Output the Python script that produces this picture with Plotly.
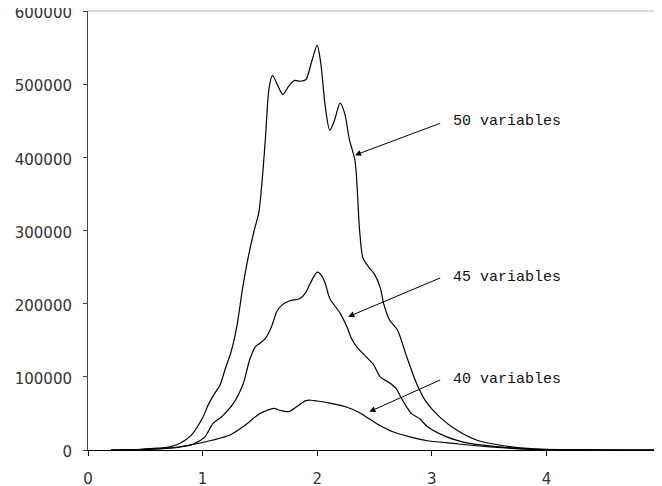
import plotly.graph_objects as go

# ---- data ----
x50 = [0.2, 0.4, 0.5, 0.6, 0.7, 0.8, 0.9, 1.0, 1.05, 1.1, 1.15, 1.2, 1.25, 1.3, 1.35, 1.4,
       1.45, 1.49, 1.52, 1.55, 1.58, 1.61, 1.65, 1.7, 1.75, 1.8, 1.85, 1.9, 1.95, 2.0, 2.03, 2.07,
       2.11, 2.15, 2.2, 2.24, 2.28, 2.33, 2.37, 2.4, 2.45, 2.5, 2.55, 2.58, 2.63, 2.7, 2.78,
       2.87, 2.95, 3.07, 3.22, 3.39, 3.6, 3.8, 4.0, 4.3, 4.7, 5.0]
y50 = [0, 300, 1500, 2500, 4000, 9000, 20000, 44000, 62000, 76000, 88000, 112000, 135000,
       170000, 222000, 265000, 300000, 324000, 369000, 430000, 495000, 512000, 500000, 486000, 497000,
       505000, 504000, 506000, 530000, 553000, 530000, 470000, 437000, 450000, 474000, 460000,
       425000, 395000, 300000, 262000, 250000, 240000, 222000, 200000, 178000, 164000, 128000,
       90000, 66000, 45000, 27000, 13700, 6500, 2500, 800, 200, 0, 0]

x45 = [0.2, 0.5, 0.7, 0.8, 0.92, 1.02, 1.09, 1.17, 1.27, 1.355, 1.41, 1.46, 1.5, 1.55, 1.6,
       1.65, 1.7, 1.76, 1.85, 1.9, 1.94, 2.0, 2.03, 2.07, 2.11, 2.2, 2.26, 2.3, 2.35, 2.43,
       2.49, 2.55, 2.63, 2.69, 2.73, 2.78, 2.82, 2.9, 2.96, 3.13, 3.33, 3.54, 3.8, 4.0, 4.4, 5.0]
y45 = [0, 800, 2500, 4000, 8000, 18000, 36000, 46000, 64000, 91000, 123000, 141000, 146000,
       153000, 168000, 190000, 199000, 204000, 207000, 215000, 228000, 243000, 240000, 228000,
       207000, 187000, 168000, 152000, 140000, 127000, 117000, 100000, 92000, 84000, 72000,
       59000, 50000, 42000, 32000, 18000, 9000, 5000, 1500, 400, 0, 0]

x40 = [0.2, 0.5, 0.74, 0.89, 1.09, 1.24, 1.355, 1.5, 1.56, 1.62, 1.68, 1.75, 1.82, 1.9, 1.95,
       2.0, 2.11, 2.26, 2.37, 2.45, 2.52, 2.66, 2.81, 2.95, 3.19, 3.48, 3.8, 4.0, 4.5, 5.0]
y40 = [0, 800, 3100, 6800, 13700, 20500, 32000, 50000, 54000, 57000, 54000, 52500, 59000,
       67500, 68000, 67000, 64000, 58500, 51000, 43000, 36000, 25000, 18000, 13000, 9000,
       4500, 1500, 500, 0, 0]

x_ticks = [0, 1, 2, 3, 4, 5]
y_ticks = [0, 100000, 200000, 300000, 400000, 500000, 600000]

labels = ["50 variables", "45 variables", "40 variables"]

fig = go.Figure()
for xs, ys in [(x50, y50), (x45, y45), (x40, y40)]:
    fig.add_trace(go.Scatter(x=xs, y=ys, mode="lines",
                             line=dict(color="black", width=1.2, shape="spline", smoothing=0.8),
                             showlegend=False, hoverinfo="skip"))

# arrows: (tip_x, tip_y, tail_x, tail_y)
arrows = [(2.33, 403000, 3.086, 447300),
          (2.271, 182200, 3.086, 236000),
          (2.455, 52300, 3.086, 96600)]
text_pos = [(3.167, 448300), (3.167, 236400), (3.167, 95700)]

for (tx, ty, ax, ay), lab, (lx, ly) in zip(arrows, labels, text_pos):
    fig.add_annotation(x=tx, y=ty, ax=ax, ay=ay, axref="x", ayref="y", xref="x", yref="y",
                       text="", showarrow=True, arrowhead=2, arrowsize=1.2, arrowwidth=1,
                       arrowcolor="black", standoff=0, startstandoff=0)
    fig.add_annotation(x=lx, y=ly, xref="x", yref="y", text=lab, showarrow=False,
                       xanchor="left", yanchor="middle",
                       font=dict(family="Liberation Mono", size=15, color="#111"))

fig.add_shape(type="line", xref="paper", yref="paper", x0=0, x1=1, y0=1, y1=1,
              line=dict(color="#b5b5b5", width=1))

fig.update_layout(
    width=662, height=486,
    margin=dict(l=80, r=9, t=3, b=44),
    plot_bgcolor="white", paper_bgcolor="white",
    font=dict(family="DejaVu Sans", size=15, color="#333"),
)
fig.update_xaxes(range=[0, 5], tickvals=x_ticks, showgrid=False, zeroline=False,
                 showline=True, linecolor="black", linewidth=1,
                 ticks="outside", ticklen=5, tickcolor="black", ticklabelstandoff=10,
                 ticklabeloverflow="allow",
                 automargin=False, tickfont=dict(size=15, color="#333"))
fig.update_yaxes(range=[0, 600000], tickvals=y_ticks, showgrid=False, zeroline=False,
                 showline=True, linecolor="#444", linewidth=1,
                 ticks="outside", ticklen=4, tickcolor="#444", ticklabelstandoff=8,
                 ticklabelshift=2, ticklabeloverflow="allow",
                 automargin=False, tickformat="d", tickfont=dict(size=15, color="#333"))

fig.write_html("out.html")
